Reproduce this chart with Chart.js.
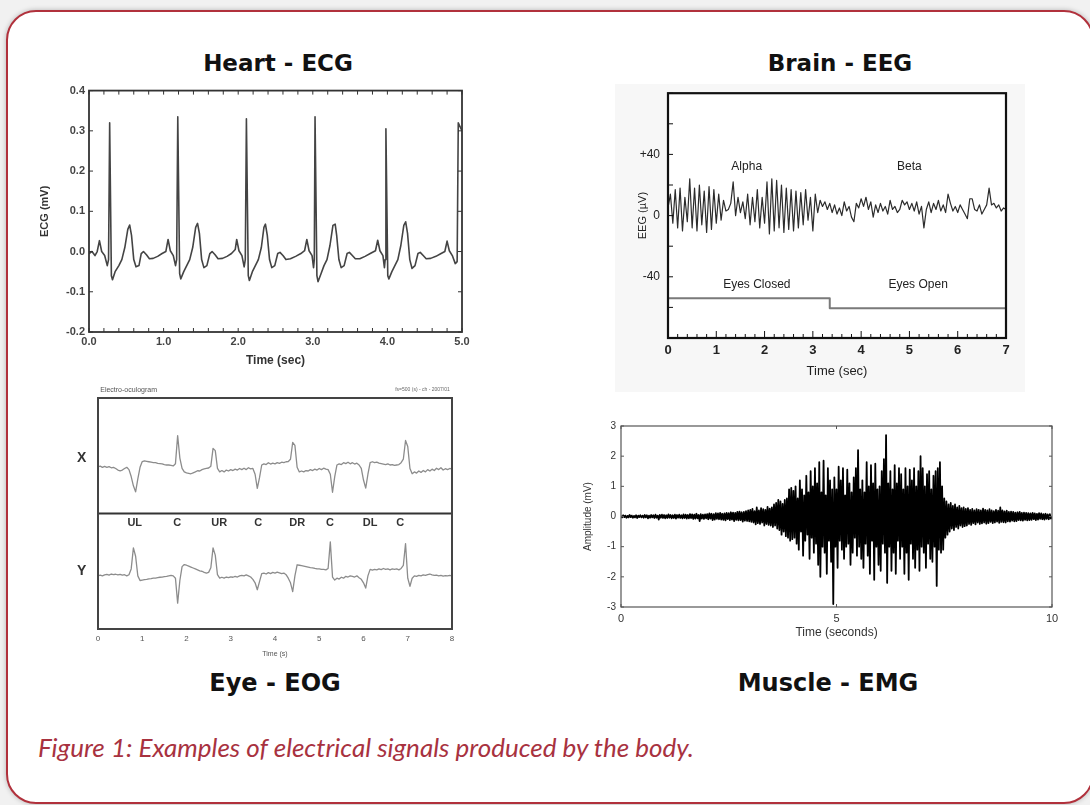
<!DOCTYPE html>
<html>
<head>
<meta charset="utf-8">
<script src="https://cdn.jsdelivr.net/npm/chart.js@4.4.0/dist/chart.umd.min.js"></script>
<style>
    html, body { margin: 0; padding: 0; }
    body { width: 1090px; height: 805px; background: #f1f1f1; position: relative; overflow: hidden; font-family: "Liberation Sans", Arial, sans-serif; }
    .frame { position: absolute; left: 6px; top: 10px; width: 1084px; height: 790px; border: 2px solid #b1313c; border-radius: 30px; background: #fff; box-shadow: 0 0 5px rgba(0,0,0,0.25); }
    .panel-title { position: absolute; font-family: "DejaVu Sans", sans-serif; font-weight: bold; color: #111; white-space: nowrap; text-align: center; }
    .top-title { font-size: 23px; line-height: 23px; top: 52px; }
    .bottom-title { font-size: 24px; line-height: 24px; top: 671px; }
    canvas { position: absolute; }
    .eeg-bg { position: absolute; left: 615px; top: 84px; width: 410px; height: 308px; background: #f7f7f7; }
    .caption { position: absolute; left: 38px; top: 731px; font-family: Lato, "Open Sans", sans-serif; font-style: italic; font-size: 26px; color: #a8323f; white-space: nowrap; }
</style>
</head>
<body>
<div class="frame"></div>
<div class="eeg-bg"></div>

<div class="panel-title top-title" style="left:178px; width:200px;">Heart - ECG</div>
<div class="panel-title top-title" style="left:740px; width:200px;">Brain - EEG</div>
<div class="panel-title bottom-title" style="left:175px; width:200px;">Eye - EOG</div>
<div class="panel-title bottom-title" style="left:728px; width:200px;">Muscle - EMG</div>

<canvas id="ecgChart" width="445" height="290" style="left:30px; top:80px;"></canvas>
<canvas id="eegChart" width="410" height="314" style="left:615px; top:78px;"></canvas>
<canvas id="eogChart" width="405" height="282" style="left:60px; top:380px;"></canvas>
<canvas id="emgChart" width="495" height="230" style="left:570px; top:415px;"></canvas>

<div class="caption">Figure 1: Examples of electrical signals produced by the body.</div>

<script>
// ---- ECG (heart), time in s, value in mV ----
const ecgTime = [
    0.00, 0.04, 0.08, 0.11, 0.14, 0.17, 0.21, 0.245, 0.262, 0.277, 0.300, 0.315, 0.35, 0.40, 0.44, 0.48, 0.52, 0.545, 0.57, 0.60, 0.63, 0.67, 0.70, 0.73, 0.77, 0.81, 0.86, 0.92, 0.98, 1.03, 1.06, 1.09, 1.13, 1.16, 1.175,
    1.19, 1.215, 1.23, 1.27, 1.31, 1.35, 1.39, 1.43, 1.455, 1.48, 1.51, 1.54, 1.58, 1.62, 1.65, 1.69, 1.73, 1.79, 1.85, 1.91, 1.96, 1.98, 2.01, 2.05, 2.08, 2.095,
    2.11, 2.135, 2.15, 2.19, 2.23, 2.27, 2.31, 2.345, 2.365, 2.39, 2.42, 2.45, 2.49, 2.53, 2.56, 2.60, 2.64, 2.70, 2.77, 2.84, 2.89, 2.92, 2.95, 2.99, 3.01, 3.02,
    3.03, 3.055, 3.07, 3.11, 3.15, 3.19, 3.23, 3.27, 3.30, 3.32, 3.35, 3.38, 3.42, 3.46, 3.49, 3.53, 3.57, 3.63, 3.70, 3.77, 3.84, 3.87, 3.90, 3.94, 3.96, 3.97,
    3.98, 4.005, 4.02, 4.06, 4.10, 4.14, 4.18, 4.22, 4.245, 4.27, 4.30, 4.33, 4.37, 4.41, 4.44, 4.48, 4.52, 4.58, 4.65, 4.72, 4.77, 4.80, 4.83, 4.87, 4.91, 4.935,
    4.95, 5.00
];
const ecgMv = [
    -0.005, 0.000, -0.010, 0.000, 0.027, 0.000, -0.010, -0.035, -0.020, 0.320, -0.060, -0.070, -0.050, -0.035, -0.020, 0.010, 0.055, 0.066, 0.040, -0.020, -0.038, -0.035, -0.005, 0.000, -0.008, -0.018, -0.017, -0.012, -0.005, 0.000, 0.030, 0.002, -0.010, -0.035, -0.020,
    0.335, -0.055, -0.068, -0.050, -0.035, -0.020, 0.010, 0.060, 0.070, 0.045, -0.020, -0.040, -0.035, -0.005, 0.000, -0.008, -0.018, -0.017, -0.012, -0.005, 0.005, 0.030, 0.002, -0.010, -0.038, -0.020,
    0.330, -0.060, -0.072, -0.050, -0.035, -0.020, 0.010, 0.060, 0.068, 0.040, -0.020, -0.040, -0.035, -0.005, -0.002, -0.010, -0.020, -0.018, -0.012, -0.005, 0.002, 0.030, 0.002, -0.010, -0.040, -0.020,
    0.335, -0.060, -0.075, -0.055, -0.035, -0.020, 0.015, 0.065, 0.068, 0.040, -0.020, -0.040, -0.035, -0.005, -0.002, -0.010, -0.018, -0.018, -0.012, -0.005, 0.002, 0.028, 0.002, -0.010, -0.040, -0.020,
    0.305, -0.060, -0.068, -0.050, -0.035, -0.020, 0.015, 0.065, 0.074, 0.045, -0.020, -0.042, -0.035, -0.005, -0.002, -0.010, -0.018, -0.017, -0.012, -0.005, 0.000, 0.026, 0.002, -0.010, -0.030, -0.025,
    0.320, 0.300
];
const ecgYTicks = [-0.2, -0.1, 0.0, 0.1, 0.2, 0.3, 0.4];
const ecgXTicks = [0, 1, 2, 3, 4, 5];

// ---- EEG (brain), sampled every 0.05 s, value in uV ----
const eegStep = 0.05;
const eegUv = [
    5, 14, -5, 17, -8, 18, -10, 12, -4, 24, -8, 18, -10, 20, -6, 16, -11, 19, -9, 17,
    -5, 14, -3, 10, 3, 4, 8, 22, 0, 12, 2, 9, -2, 14, -6, 12, -4, 17, -8, 12,
    -5, 22, -12, 24, -10, 23, -8, 20, -11, 18, -9, 17, -10, 16, -8, 15, -6, 17, -3, 12,
    -10, 14, 2, 10, 6, 9, 4, 8, 2, 7, 1, 5, 0, 9, 3, 6, -1, -4, 8, 5,
    11, 6, 12, 4, 9, -1, 7, 2, 8, 3, 6, 1, 10, 4, 6, 2, 4, 10, 7, 9,
    4, 8, 3, 9, 1, 6, -8, 4, 9, 2, 8, 4, 10, 3, 7, 2, 14, 8, 3, 6,
    2, 7, 4, 1, -2, 11, 11, 4, 3, 7, 1, 4, 7, 18, 7, 8, 5, 7, 3, 5,
    4
];
const eyesTime = [0, 3.35, 3.35, 7];
const eyesLevel = [-54, -54, -60.5, -60.5];
const eegXTicks = [0, 1, 2, 3, 4, 5, 6, 7];
const eegYTicks = [-40, 0, 40];
const eegYLabels = { '40': '+40', '0': '0', '-40': '-40' };
const eegNotes = [
    { text: 'Alpha', x: 1.63, y: 32 },
    { text: 'Beta', x: 5.0, y: 32 },
    { text: 'Eyes Closed', x: 1.84, y: -45 },
    { text: 'Eyes Open', x: 5.18, y: -45 }
];

// ---- EOG (eye), sampled every 0.05 s, two traces on a shared 0..10 scale ----
const eogStep = 0.05;
const eogX = [
    7.02, 7.05, 7.00, 7.04, 7.00, 7.03, 6.98, 7.00, 6.95, 6.88, 6.85, 6.88, 6.95, 7.00, 6.90, 6.60, 6.20, 5.94, 6.50, 7.00,
    7.25, 7.28, 7.26, 7.24, 7.22, 7.20, 7.20, 7.17, 7.16, 7.15, 7.12, 7.10, 7.10, 7.08, 7.06, 7.15, 8.37, 7.40, 6.95, 6.80,
    6.76, 6.74, 6.72, 6.76, 6.80, 6.85, 6.84, 6.90, 6.93, 6.95, 6.97, 7.05, 7.82, 7.72, 6.95, 6.80, 6.86, 6.80, 6.88, 6.84,
    6.90, 6.86, 6.92, 6.88, 6.95, 6.90, 6.96, 6.90, 6.98, 6.93, 6.95, 6.70, 6.09, 6.55, 7.10, 7.15, 7.12, 7.20, 7.14, 7.18,
    7.15, 7.20, 7.17, 7.22, 7.20, 7.24, 7.25, 7.35, 8.08, 7.95, 7.00, 6.80, 6.84, 6.80, 6.86, 6.84, 6.90, 6.86, 6.92, 6.88,
    6.95, 6.90, 6.96, 6.92, 6.90, 6.70, 5.92, 6.60, 7.10, 7.15, 7.12, 7.20, 7.16, 7.22, 7.15, 7.20, 7.14, 7.18, 7.10, 6.95,
    6.45, 6.10, 6.70, 7.20, 7.24, 7.20, 7.22, 7.18, 7.16, 7.14, 7.12, 7.15, 7.10, 7.12, 7.08, 7.10, 7.12, 7.20, 7.35, 8.16,
    7.90, 6.95, 6.72, 6.80, 6.75, 6.84, 6.78, 6.86, 6.80, 6.90, 6.84, 6.92, 6.86, 6.96, 6.90, 6.98, 6.88, 6.94, 6.90, 6.95,
    6.92
];
const eogY = [
    2.30, 2.33, 2.30, 2.34, 2.36, 2.33, 2.38, 2.35, 2.37, 2.34, 2.36, 2.33, 2.35, 2.30, 2.35, 2.60, 3.51, 3.15, 2.30, 2.10,
    2.12, 2.14, 2.15, 2.17, 2.18, 2.20, 2.20, 2.22, 2.24, 2.25, 2.27, 2.28, 2.30, 2.32, 2.30, 2.20, 1.12, 2.10, 2.70, 2.79,
    2.76, 2.72, 2.68, 2.64, 2.60, 2.56, 2.52, 2.50, 2.45, 2.42, 2.45, 2.65, 3.51, 3.20, 2.35, 2.20, 2.24, 2.20, 2.25, 2.22,
    2.26, 2.24, 2.28, 2.25, 2.30, 2.32, 2.30, 2.34, 2.30, 2.25, 2.15, 2.00, 1.70, 2.05, 2.40, 2.42, 2.38, 2.44, 2.40, 2.45,
    2.42, 2.46, 2.43, 2.40, 2.42, 2.35, 2.20, 2.00, 1.62, 2.30, 2.78, 2.76, 2.74, 2.72, 2.70, 2.68, 2.66, 2.65, 2.62, 2.60,
    2.60, 2.58, 2.58, 2.56, 2.62, 3.77, 2.25, 2.12, 2.20, 2.16, 2.24, 2.20, 2.28, 2.25, 2.30, 2.28, 2.25, 2.30, 2.22, 2.15,
    2.00, 1.77, 2.30, 2.58, 2.55, 2.58, 2.56, 2.60, 2.57, 2.62, 2.58, 2.60, 2.56, 2.60, 2.58, 2.60, 2.56, 2.62, 2.75, 3.70,
    2.20, 1.85, 2.20, 2.30, 2.28, 2.32, 2.30, 2.34, 2.32, 2.35, 2.38, 2.34, 2.32, 2.33, 2.30, 2.32, 2.29, 2.31, 2.30, 2.32,
    2.30
];
const eogSplitTime = [0, 8];
const eogSplitLevel = [5, 5];
const eogXTicks = [0, 1, 2, 3, 4, 5, 6, 7, 8];
const eogNotes = [
    { text: 'UL', x: 0.83 }, { text: 'C', x: 1.79 }, { text: 'UR', x: 2.74 }, { text: 'C', x: 3.62 },
    { text: 'DR', x: 4.5 }, { text: 'C', x: 5.24 }, { text: 'DL', x: 6.15 }, { text: 'C', x: 6.83 }
];

// ---- EMG (muscle), sampled every 0.025 s, value in mV ----
const emgStep = 0.025;
const emgMv = [
    0.02, -0.03, 0.04, -0.02, 0.03, -0.04, 0.02, -0.03, 0.05, -0.02, 0.03, -0.04, 0.02, -0.03, 0.04, -0.05, 0.03, -0.02, 0.04, -0.03,
    0.03, -0.04, 0.05, -0.03, 0.04, -0.06, 0.03, -0.04, 0.05, -0.03, 0.04, -0.05, 0.06, -0.04, 0.03, -0.10, 0.05, -0.04, 0.06, -0.05,
    0.05, -0.06, 0.04, -0.05, 0.07, -0.04, 0.05, -0.06, 0.04, -0.05, 0.06, -0.07, 0.05, -0.04, 0.06, -0.05, 0.04, -0.06, 0.07, -0.05,
    0.06, -0.07, 0.05, -0.06, 0.08, -0.05, 0.07, -0.08, 0.06, -0.07, 0.09, -0.06, 0.05, -0.15, 0.08, -0.07, 0.06, -0.08, 0.07, -0.06,
    0.08, -0.09, 0.10, -0.07, 0.09, -0.12, 0.08, -0.10, 0.11, -0.08, 0.10, -0.09, 0.12, -0.10, 0.09, -0.11, 0.10, -0.13, 0.12, -0.09,
    0.11, -0.12, 0.14, -0.10, 0.13, -0.15, 0.12, -0.11, 0.15, -0.13, 0.16, -0.12, 0.14, -0.17, 0.15, -0.14, 0.18, -0.15, 0.20, -0.16,
    0.22, -0.18, 0.25, -0.20, 0.18, -0.26, 0.30, -0.22, 0.20, -0.25, 0.28, -0.20, 0.24, -0.30, 0.22, -0.25, 0.32, -0.28, 0.26, -0.30,
    0.30, -0.35, 0.40, -0.30, 0.45, -0.40, 0.55, -0.45, 0.50, -0.60, 0.42, -0.50, 0.55, -0.65, 0.60, -0.70, 0.90, -0.80, 0.95, -0.75,
    0.85, -0.70, 1.00, -0.90, 0.60, -1.10, 1.20, -0.50, 0.90, -1.30, 0.70, -0.80, 1.35, -0.60, 0.80, -1.40, 1.50, -0.70, 1.00, -1.20,
    1.60, -0.90, 1.10, -1.60, 1.80, -2.00, 0.80, -1.00, 1.85, -1.20, 0.70, -1.90, 1.60, -0.80, 1.20, -1.50, 0.90, -2.90, 1.30, -1.00,
    0.90, -1.70, 1.65, -0.80, 1.20, -1.10, 1.60, -1.40, 0.70, -1.00, 1.55, -0.90, 1.10, -1.60, 0.80, -1.20, 1.30, -0.70, 1.60, -1.30,
    2.20, -1.00, 0.90, -1.40, 1.20, -1.70, 0.80, -0.90, 1.80, -1.30, 1.00, -1.90, 1.70, -0.80, 1.10, -2.10, 1.75, -1.00, 0.90, -1.60,
    1.00, -1.80, 1.50, -0.90, 1.90, -1.20, 2.70, -2.20, 1.10, -1.00, 1.50, -1.80, 0.90, -1.20, 1.70, -1.90, 1.10, -0.80, 1.60, -1.40,
    1.40, -1.00, 0.90, -1.90, 1.60, -1.20, 1.00, -2.10, 1.55, -0.90, 1.20, -1.40, 1.60, -1.70, 1.00, -1.10, 1.50, -1.80, 2.00, -1.00,
    1.60, -1.20, 1.00, -1.70, 1.40, -0.90, 1.50, -1.40, 0.90, -1.50, 1.35, -1.00, 1.50, -2.30, 1.60, -1.10, 1.80, -1.20, 1.00, -1.10,
    0.60, -0.70, 0.50, -0.60, 0.40, -0.50, 0.45, -0.40, 0.35, -0.45, 0.40, -0.35, 0.30, -0.40, 0.35, -0.30, 0.28, -0.35, 0.30, -0.32,
    0.25, -0.30, 0.28, -0.25, 0.22, -0.28, 0.25, -0.22, 0.20, -0.26, 0.24, -0.20, 0.22, -0.25, 0.20, -0.23, 0.26, -0.20, 0.22, -0.24,
    0.20, -0.22, 0.24, -0.18, 0.20, -0.22, 0.18, -0.20, 0.22, -0.17, 0.19, -0.21, 0.30, -0.18, 0.20, -0.19, 0.17, -0.20, 0.19, -0.16,
    0.15, -0.17, 0.16, -0.14, 0.15, -0.16, 0.13, -0.15, 0.14, -0.12, 0.15, -0.13, 0.12, -0.14, 0.13, -0.11, 0.12, -0.13, 0.11, -0.12,
    0.10, -0.11, 0.12, -0.09, 0.10, -0.12, 0.09, -0.10, 0.11, -0.08, 0.10, -0.09, 0.08, -0.10, 0.09, -0.08, 0.07, -0.09, 0.08, -0.07,
    0.00
];
const emgXTicks = [0, 5, 10];
const emgYTicks = [-3, -2, -1, 0, 1, 2, 3];

const FONT = '"Liberation Sans", Arial, sans-serif';

function pairUp(times, values) {
    return values.map((v, i) => ({ x: times[i], y: v }));
}
function sampled(values, step) {
    return values.map((v, i) => ({ x: +(i * step).toFixed(4), y: v }));
}
function line(data, color, width) {
    return { data, borderColor: color, borderWidth: width, pointRadius: 0, tension: 0, fill: false };
}
function fixedTicks(list) {
    return s => { s.ticks = list.map(v => ({ value: v })); };
}
const fixWidth = w => scale => { scale.width = w; };
const fixHeight = h => scale => { scale.height = h; };
const noGrid = { display: false, drawTicks: false };

// draws the box around the plot area and the inward tick marks
const framePlugin = {
    id: 'frame',
    afterDatasetsDraw(chart, args, opts) {
        const { ctx, chartArea: a, scales } = chart;
        const xs = scales.x, ys = scales.y;
        ctx.save();
        ctx.strokeStyle = opts.color || '#333';
        ctx.lineWidth = opts.width || 1;
        ctx.strokeRect(a.left, a.top, a.right - a.left, a.bottom - a.top);
        ctx.lineWidth = 1;
        (opts.ticks || []).forEach(t => {
            const s = (t.side === 'top' || t.side === 'bottom') ? xs : ys;
            const n = Math.round((s.max - s.min) / t.step);
            for (let i = 0; i <= n; i++) {
                const p = s.getPixelForValue(s.min + i * t.step);
                const len = (t.every && i % t.every === 0) ? t.majorLen : t.len;
                ctx.beginPath();
                if (t.side === 'bottom') { ctx.moveTo(p, a.bottom); ctx.lineTo(p, a.bottom - len); }
                if (t.side === 'top') { ctx.moveTo(p, a.top); ctx.lineTo(p, a.top + len); }
                if (t.side === 'left') { ctx.moveTo(a.left, p); ctx.lineTo(a.left + len, p); }
                if (t.side === 'right') { ctx.moveTo(a.right, p); ctx.lineTo(a.right - len, p); }
                ctx.stroke();
            }
        });
        ctx.restore();
    }
};

// text placed in data coordinates
const notesPlugin = {
    id: 'notes',
    afterDraw(chart, args, opts) {
        const { ctx, scales } = chart;
        ctx.save();
        (opts.items || []).forEach(n => {
            ctx.font = n.font || opts.font;
            ctx.fillStyle = n.color || opts.color || '#222';
            ctx.textAlign = n.align || 'center';
            ctx.textBaseline = 'middle';
            ctx.fillText(n.text, scales.x.getPixelForValue(n.x), scales.y.getPixelForValue(n.y));
        });
        ctx.restore();
    }
};

// white plot area on a tinted panel
const plotBgPlugin = {
    id: 'plotBg',
    beforeDatasetsDraw(chart, args, opts) {
        const a = chart.chartArea;
        chart.ctx.save();
        chart.ctx.fillStyle = opts.color || '#fff';
        chart.ctx.fillRect(a.left, a.top, a.right - a.left, a.bottom - a.top);
        chart.ctx.restore();
    }
};

function baseOptions(extraPlugins) {
    return {
        responsive: false,
        animation: false,
        events: [],
        plugins: Object.assign({ legend: { display: false }, tooltip: { enabled: false } }, extraPlugins),
        elements: { line: { borderJoinStyle: 'round' } }
    };
}

// ---------- Heart - ECG ----------
new Chart(document.getElementById('ecgChart'), {
    type: 'line',
    data: { datasets: [line(pairUp(ecgTime, ecgMv), '#444', 1.6)] },
    plugins: [framePlugin],
    options: Object.assign(baseOptions({
        frame: {
            color: '#333', width: 1.8,
            ticks: [
                { side: 'bottom', step: 0.2, len: 4 }, { side: 'top', step: 0.2, len: 4 },
                { side: 'left', step: 0.1, len: 4 }, { side: 'right', step: 0.1, len: 4 }
            ]
        }
    }), {
        layout: { padding: { top: 10, right: 13, left: 0, bottom: 0 } },
        scales: {
            x: {
                type: 'linear', min: 0, max: 5,
                afterFit: fixHeight(38), afterBuildTicks: fixedTicks(ecgXTicks),
                grid: noGrid, border: { display: false },
                ticks: { padding: 3, color: '#444', font: { family: FONT, size: 11, weight: 'bold' }, callback: v => v.toFixed(1), maxRotation: 0 },
                title: { display: true, text: 'Time (sec)', color: '#333', font: { family: FONT, size: 12, weight: 'bold' }, padding: { top: 0, bottom: 2 } }
            },
            y: {
                type: 'linear', min: -0.2, max: 0.4,
                afterFit: fixWidth(59), afterBuildTicks: fixedTicks(ecgYTicks),
                grid: noGrid, border: { display: false },
                ticks: { padding: 4, color: '#444', font: { family: FONT, size: 11, weight: 'bold' }, callback: v => v.toFixed(1) },
                title: { display: true, text: 'ECG (mV)', color: '#333', font: { family: FONT, size: 11, weight: 'bold' }, padding: { top: 8, bottom: 0 } }
            }
        }
    })
});

// ---------- Brain - EEG ----------
new Chart(document.getElementById('eegChart'), {
    type: 'line',
    data: {
        datasets: [
            line(sampled(eegUv, eegStep), '#2c2c2c', 1.2),
            line(pairUp(eyesTime, eyesLevel), '#7a7a7a', 2)
        ]
    },
    plugins: [plotBgPlugin, framePlugin, notesPlugin],
    options: Object.assign(baseOptions({
        plotBg: { color: '#ffffff' },
        frame: {
            color: '#111', width: 2.2,
            ticks: [
                { side: 'bottom', step: 0.2, len: 4, every: 5, majorLen: 7 },
                { side: 'left', step: 20, len: 5 }
            ]
        },
        notes: { font: '12px ' + FONT, color: '#222', items: eegNotes }
    }), {
        layout: { padding: { top: 3, right: 19, left: 0, bottom: 0 } },
        scales: {
            x: {
                type: 'linear', min: 0, max: 7,
                afterFit: fixHeight(54), afterBuildTicks: fixedTicks(eegXTicks),
                grid: noGrid, border: { display: false },
                ticks: { padding: 5, color: '#222', font: { family: FONT, size: 13, weight: 'bold' }, maxRotation: 0 },
                title: { display: true, text: 'Time (sec)', color: '#222', font: { family: FONT, size: 13 }, padding: { top: 0, bottom: 13 } }
            },
            y: {
                type: 'linear', min: -80, max: 80,
                afterFit: fixWidth(53), afterBuildTicks: fixedTicks(eegYTicks),
                grid: noGrid, border: { display: false },
                ticks: { padding: 8, color: '#222', font: { family: FONT, size: 12 }, callback: v => eegYLabels[String(v)] },
                title: { display: true, text: 'EEG (\u00b5V)', color: '#222', font: { family: FONT, size: 11 }, padding: { top: 21, bottom: 0 } }
            }
        }
    })
});

// ---------- Eye - EOG ----------
new Chart(document.getElementById('eogChart'), {
    type: 'line',
    data: {
        datasets: [
            line(sampled(eogX, eogStep), '#8c8c8c', 1.3),
            line(sampled(eogY, eogStep), '#8c8c8c', 1.3),
            line(pairUp(eogSplitTime, eogSplitLevel), '#333', 1.8)
        ]
    },
    plugins: [framePlugin, notesPlugin],
    options: Object.assign(baseOptions({
        frame: { color: '#444', width: 2 },
        notes: {
            font: 'bold 11px ' + FONT, color: '#333',
            items: eogNotes.map(n => ({ text: n.text, x: n.x, y: 4.6 })).concat([
                { text: 'X', x: -0.37, y: 7.4, font: 'bold 14px ' + FONT },
                { text: 'Y', x: -0.37, y: 2.5, font: 'bold 14px ' + FONT },
                { text: 'Electro-oculogram', x: 0.05, y: 10.35, align: 'left', font: '7px ' + FONT, color: '#555' },
                { text: 'fs=500 (s) - ch - 2007/01', x: 7.95, y: 10.35, align: 'right', font: '5px ' + FONT, color: '#666' }
            ])
        }
    }), {
        layout: { padding: { top: 18, right: 13, left: 38, bottom: 0 } },
        scales: {
            x: {
                type: 'linear', min: 0, max: 8,
                afterFit: fixHeight(33), afterBuildTicks: fixedTicks(eogXTicks),
                grid: noGrid, border: { display: false },
                ticks: { padding: 5, color: '#555', font: { family: FONT, size: 8 }, maxRotation: 0 },
                title: { display: true, text: 'Time (s)', color: '#555', font: { family: FONT, size: 7 }, padding: { top: 0, bottom: 4 } }
            },
            y: { type: 'linear', min: 0, max: 10, display: false }
        }
    })
});

// ---------- Muscle - EMG ----------
new Chart(document.getElementById('emgChart'), {
    type: 'line',
    data: { datasets: [line(sampled(emgMv, emgStep), '#000', 1.8)] },
    plugins: [framePlugin],
    options: Object.assign(baseOptions({
        frame: {
            color: '#555', width: 1.2,
            ticks: [
                { side: 'bottom', step: 5, len: 3 }, { side: 'top', step: 5, len: 3 },
                { side: 'left', step: 1, len: 3 }, { side: 'right', step: 1, len: 3 }
            ]
        }
    }), {
        layout: { padding: { top: 10, right: 13, left: 0, bottom: 0 } },
        scales: {
            x: {
                type: 'linear', min: 0, max: 10,
                afterFit: fixHeight(38), afterBuildTicks: fixedTicks(emgXTicks),
                grid: noGrid, border: { display: false },
                ticks: { padding: 5, color: '#333', font: { family: FONT, size: 11 }, maxRotation: 0 },
                title: { display: true, text: 'Time (seconds)', color: '#333', font: { family: FONT, size: 12 }, padding: { top: 0, bottom: 5 } }
            },
            y: {
                type: 'linear', min: -3, max: 3,
                afterFit: fixWidth(51), afterBuildTicks: fixedTicks(emgYTicks),
                grid: noGrid, border: { display: false },
                ticks: { padding: 5, color: '#333', font: { family: FONT, size: 10 } },
                title: { display: true, text: 'Amplitude (mV)', color: '#333', font: { family: FONT, size: 10 }, padding: { top: 12, bottom: 0 } }
            }
        }
    })
});
</script>
</body>
</html>
